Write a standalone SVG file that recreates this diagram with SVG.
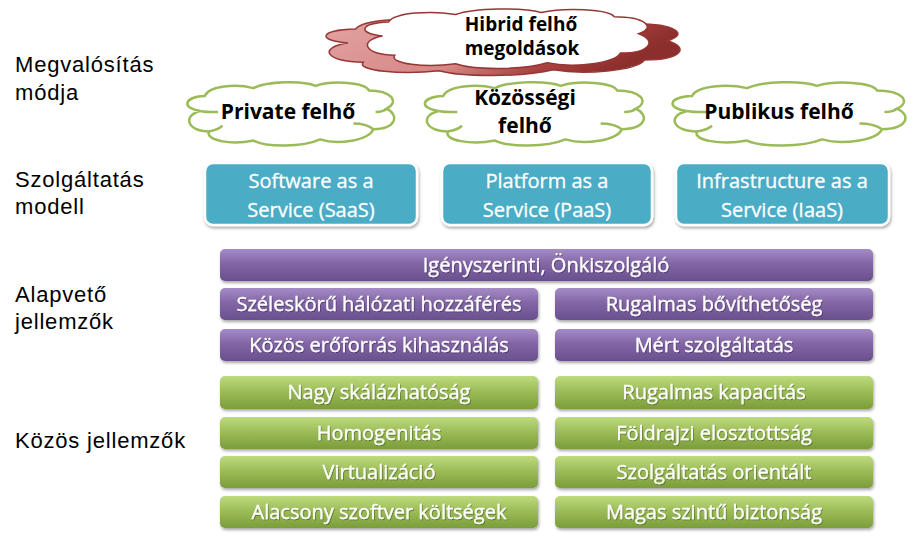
<svg xmlns="http://www.w3.org/2000/svg" width="917" height="539" viewBox="0 0 917 539">
<style>
.lbl{font-family:"Liberation Sans",Arial,sans-serif;font-size:22px;letter-spacing:0.8px;fill:#000}
.ct{font-family:"Open Sans","Liberation Sans",sans-serif;font-weight:bold;font-size:20px;fill:#000;text-anchor:middle}
.bt{font-family:"Open Sans","Liberation Sans",sans-serif;font-size:20px;fill:#fff;stroke:#fff;stroke-width:0.3;text-anchor:middle}
.gcloud{fill:#fff;stroke:#9bbb59;stroke-width:2.5}
.ginner{fill:none;stroke:#9bbb59;stroke-width:2.5}
.blue{fill:#4bacc6;stroke:#fff;stroke-width:2.5}
.pur{fill:url(#gp)}
.grn{fill:url(#gg)}
</style>
<defs>
<linearGradient id="gp" x1="0" y1="0" x2="0" y2="1">
<stop offset="0" stop-color="#a58cc6"/><stop offset="0.45" stop-color="#8366a6"/><stop offset="1" stop-color="#6a4f8e"/>
</linearGradient>
<linearGradient id="gg" x1="0" y1="0" x2="0" y2="1">
<stop offset="0" stop-color="#bedb7e"/><stop offset="0.45" stop-color="#9dbd59"/><stop offset="1" stop-color="#7b9d3a"/>
</linearGradient>
<linearGradient id="gh" x1="0" y1="0" x2="1" y2="0.3">
<stop offset="0" stop-color="#e3a3a2"/><stop offset="0.55" stop-color="#d58886"/><stop offset="0.8" stop-color="#a8403e"/><stop offset="1" stop-color="#8c2e2c"/>
</linearGradient>
<filter id="sh" x="-10%" y="-30%" width="120%" height="170%">
<feDropShadow dx="1" dy="2" stdDeviation="1.5" flood-color="#000" flood-opacity="0.35"/>
</filter>
<filter id="ts" x="-5%" y="-20%" width="110%" height="150%">
<feDropShadow dx="0.8" dy="1" stdDeviation="0.6" flood-color="#000" flood-opacity="0.35"/>
</filter>
<path id="cloud" vector-effect="non-scaling-stroke" d="M 10,28 C 2,26 2,16 12,15 C 14,6 26,4 34,8 C 40,2 56,1 62,6 C 70,1 84,3 86,10 C 96,10 100,20 94,26 C 100,32 98,44 88,44 C 86,54 72,58 64,53 C 56,60 40,60 34,54 C 24,58 12,54 14,46 C 4,46 2,32 10,28 Z"/>
<path id="inner" vector-effect="non-scaling-stroke" d="M 10,28 C 12,29 15,29 18,29 M 14,46 C 17,45 19,43 20,41 M 88,44 C 86,41 83,39 79,39 M 94,26 C 93,28 91,29 89,29"/>
</defs>

<g id="labels">
<text class="lbl" x="15" y="72">Megvalósítás</text>
<text class="lbl" x="15" y="100">módja</text>
<text class="lbl" x="15" y="187">Szolgáltatás</text>
<text class="lbl" x="15" y="214">modell</text>
<text class="lbl" x="15" y="302">Alapvető</text>
<text class="lbl" x="15" y="329">jellemzők</text>
<text class="lbl" x="15" y="448">Közös jellemzők</text>
</g>

<g id="connectors"></g>

<g id="hibrid">
<use href="#cloud" transform="translate(310,13) scale(3.8,1.07)" style="fill:url(#gh);stroke:#953735;stroke-width:1.5"/>
<use href="#cloud" transform="translate(352,6) scale(3.05,1.07)" style="fill:#fff;stroke:#953735;stroke-width:1.5"/>
<text class="ct" x="521" y="31" style="font-size:19px">Hibrid felhő</text>
<text class="ct" x="522" y="55" style="font-size:19px">megoldások</text>
</g>

<g id="private">
<use href="#cloud" class="gcloud" transform="translate(178,79) scale(2.22,1.14)"/>
<use href="#inner" class="ginner" transform="translate(178,79) scale(2.22,1.14)"/>
<text class="ct" x="288" y="119" style="font-size:21px">Private felhő</text>
</g>

<g id="kozossegi">
<use href="#cloud" class="gcloud" transform="translate(415,79) scale(2.35,1.14)"/>
<use href="#inner" class="ginner" transform="translate(415,79) scale(2.35,1.14)"/>
<text class="ct" x="525" y="105" style="font-size:21px">Közösségi</text>
<text class="ct" x="525" y="133" style="font-size:21px">felhő</text>
</g>

<g id="publikus">
<use href="#cloud" class="gcloud" transform="translate(662,79) scale(2.5,1.14)"/>
<use href="#inner" class="ginner" transform="translate(662,79) scale(2.5,1.14)"/>
<text class="ct" x="779" y="119" style="font-size:21px">Publikus felhő</text>
</g>

<g id="saas">
<rect class="blue" x="205" y="163" width="212" height="62" rx="8" filter="url(#sh)"/>
<text class="bt" x="311" y="188">Software as a</text>
<text class="bt" x="311" y="217">Service (SaaS)</text>
</g>
<g id="paas">
<rect class="blue" x="442" y="163" width="210" height="62" rx="8" filter="url(#sh)"/>
<text class="bt" x="547" y="188">Platform as a</text>
<text class="bt" x="547" y="217">Service (PaaS)</text>
</g>
<g id="iaas">
<rect class="blue" x="676" y="163" width="213" height="62" rx="8" filter="url(#sh)"/>
<text class="bt" x="782" y="188">Infrastructure as a</text>
<text class="bt" x="782" y="217">Service (IaaS)</text>
</g>

<g id="igeny">
<rect class="pur" x="220" y="249" width="653" height="32" rx="5" filter="url(#sh)"/>
<text class="bt" x="546" y="272" filter="url(#ts)">Igényszerinti, Önkiszolgáló</text>
</g>
<g id="szeles">
<rect class="pur" x="220" y="288" width="318" height="32" rx="5" filter="url(#sh)"/>
<text class="bt" x="379" y="311" filter="url(#ts)">Széleskörű hálózati hozzáférés</text>
</g>
<g id="rugbov">
<rect class="pur" x="555" y="288" width="318" height="32" rx="5" filter="url(#sh)"/>
<text class="bt" x="714" y="311" filter="url(#ts)">Rugalmas bővíthetőség</text>
</g>
<g id="kozos">
<rect class="pur" x="220" y="329" width="318" height="32" rx="5" filter="url(#sh)"/>
<text class="bt" x="379" y="352" filter="url(#ts)">Közös erőforrás kihasználás</text>
</g>
<g id="mert">
<rect class="pur" x="555" y="329" width="318" height="32" rx="5" filter="url(#sh)"/>
<text class="bt" x="714" y="352" filter="url(#ts)">Mért szolgáltatás</text>
</g>

<g id="nagy">
<rect class="grn" x="220" y="376" width="318" height="33" rx="5" filter="url(#sh)"/>
<text class="bt" x="379" y="399" filter="url(#ts)">Nagy skálázhatóság</text>
</g>
<g id="rugkap">
<rect class="grn" x="555" y="376" width="318" height="33" rx="5" filter="url(#sh)"/>
<text class="bt" x="714" y="399" filter="url(#ts)">Rugalmas kapacitás</text>
</g>
<g id="homo">
<rect class="grn" x="220" y="417" width="318" height="32" rx="5" filter="url(#sh)"/>
<text class="bt" x="379" y="440" filter="url(#ts)">Homogenitás</text>
</g>
<g id="foldr">
<rect class="grn" x="555" y="417" width="318" height="32" rx="5" filter="url(#sh)"/>
<text class="bt" x="714" y="440" filter="url(#ts)">Földrajzi elosztottság</text>
</g>
<g id="virt">
<rect class="grn" x="220" y="456" width="318" height="32" rx="5" filter="url(#sh)"/>
<text class="bt" x="379" y="479" filter="url(#ts)">Virtualizáció</text>
</g>
<g id="szorient">
<rect class="grn" x="555" y="456" width="318" height="32" rx="5" filter="url(#sh)"/>
<text class="bt" x="714" y="479" filter="url(#ts)">Szolgáltatás orientált</text>
</g>
<g id="alacsony">
<rect class="grn" x="220" y="496" width="318" height="32" rx="5" filter="url(#sh)"/>
<text class="bt" x="379" y="519" filter="url(#ts)">Alacsony szoftver költségek</text>
</g>
<g id="magas">
<rect class="grn" x="555" y="496" width="318" height="32" rx="5" filter="url(#sh)"/>
<text class="bt" x="714" y="519" filter="url(#ts)">Magas szintű biztonság</text>
</g>
</svg>
